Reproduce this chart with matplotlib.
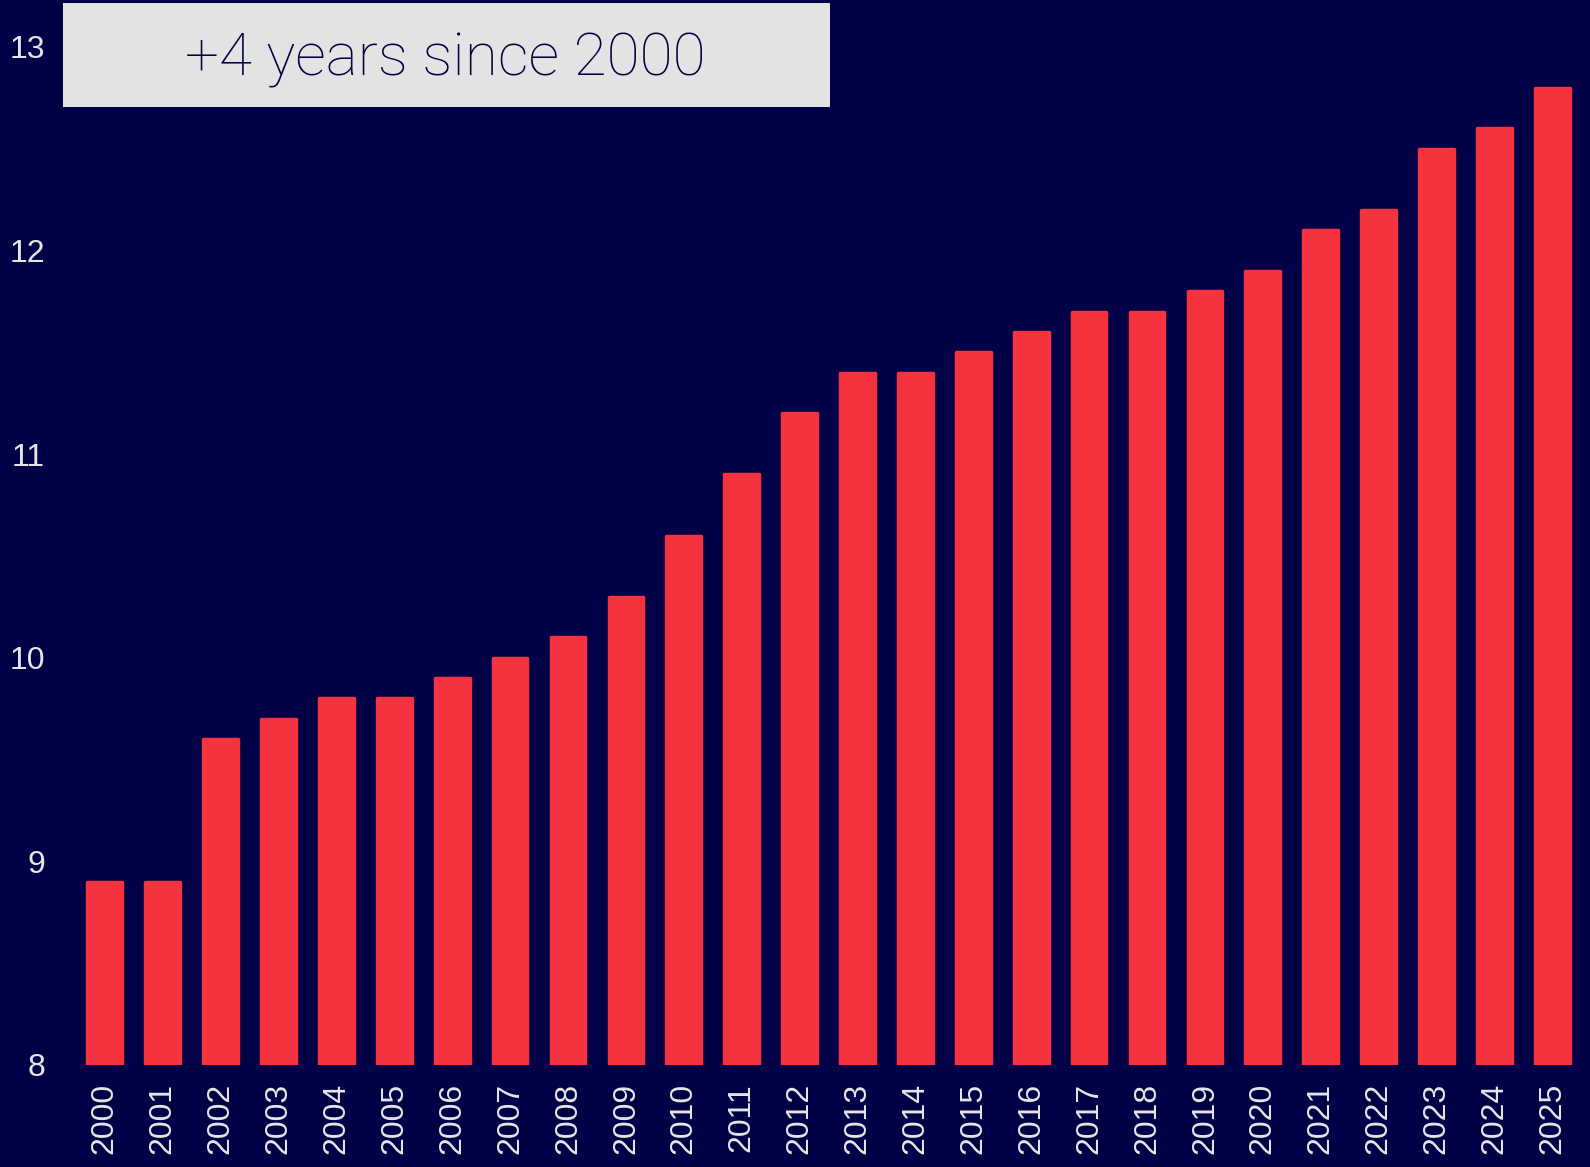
import matplotlib
matplotlib.use("Agg")
import matplotlib.pyplot as plt
from matplotlib.patches import Rectangle

years = [str(y) for y in range(2000, 2026)]
values = [8.9, 8.9, 9.6, 9.7, 9.8, 9.8, 9.9, 10.0, 10.1, 10.3,
          10.6, 10.9, 11.2, 11.4, 11.4, 11.5, 11.6, 11.7, 11.7, 11.8,
          11.9, 12.1, 12.2, 12.5, 12.6, 12.8]
yticks = [8, 9, 10, 11, 12, 13]
headline = "+4 years since 2000"

bg = "#000046"
bar_color = "#f5333f"

fig = plt.figure(figsize=(15.9, 11.67), dpi=100)
fig.patch.set_facecolor(bg)
ax = fig.add_axes([70 / 1590, 102 / 1167, 1520 / 1590, 1065 / 1167])
ax.set_facecolor(bg)

x = list(range(len(years)))
ax.bar(x, values, width=0.6, bottom=0, color=bar_color, edgecolor=bar_color,
       linewidth=2.5, joinstyle="round")

ax.set_xlim(-0.6, 25.65)
ax.set_ylim(8, 13.23)
ax.set_xticks(x)
ax.set_xticklabels(years, rotation=90, fontsize=23, color="#e6e6e6",
                   family="Liberation Sans")
ax.set_yticks(yticks)
ax.set_yticklabels([str(t) for t in yticks], fontsize=23, color="#e6e6e6",
                   family="Liberation Sans")
ax.tick_params(axis="x", length=0, pad=13)
ax.tick_params(axis="y", length=0, pad=18)
for s in ax.spines.values():
    s.set_visible(False)

# headline box
box = Rectangle((63 / 1590, 1 - 107 / 1167), (830 - 63) / 1590, (107 - 3) / 1167,
                transform=fig.transFigure, facecolor="#e3e3e3", edgecolor="none")
fig.patches.append(box)
fig.text(445 / 1590, 1 - 60 / 1167, headline, ha="center", va="center",
         fontsize=43.5, color="#00003f", family="Roboto", fontweight="light")

fig.savefig("out.png", dpi=100, facecolor=bg)
